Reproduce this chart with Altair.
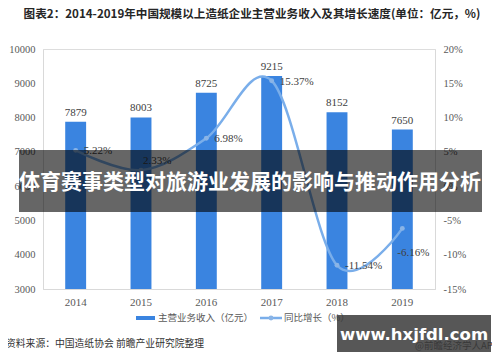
import altair as alt
import pandas as pd

years = ["2014", "2015", "2016", "2017", "2018", "2019"]
revenue = [7879, 8003, 8725, 9215, 8152, 7650]
growth = [5.22, 2.33, 6.98, 15.37, -11.54, -6.16]
growth_labels = ["5.22%", "2.33%", "6.98%", "15.37%", "-11.54%", "-6.16%"]
left_ticks = [3000, 4000, 5000, 6000, 7000, 8000, 9000, 10000]
right_ticks = [-15, -10, -5, 0, 5, 10, 15, 20]

title_text = "图表2：2014-2019年中国规模以上造纸企业主营业务收入及其增长速度(单位：亿元，%)"
banner_text = "体育赛事类型对旅游业发展的影响与推动作用分析"
legend_bar = "主营业务收入（亿元）"
legend_line = "同比增长（%）"
source_text = "资料来源：中国造纸协会 前瞻产业研究院整理"
app_text = "@前瞻经济学人APP"
site_text = "www.hxjfdl.com"

df = pd.DataFrame({"year": years, "revenue": revenue, "growth": growth, "glabel": growth_labels})

SERIF = "'Liberation Serif', 'Times New Roman', 'DejaVu Serif', serif"
CJK = "Noto Sans CJK SC"
BAR = "#3a84e0"
LINE = "#7aaeea"

base = alt.Chart(df)
xenc = alt.X(
    "year:N",
    scale=alt.Scale(paddingInner=0.68, paddingOuter=0.34),
    axis=alt.Axis(title=None, labelAngle=0, ticks=False, domainColor="#d9d9d9",
                  labelFont=SERIF, labelFontSize=11, labelColor="#595959", labelPadding=7),
)
yL = alt.Y(
    "revenue:Q",
    scale=alt.Scale(domain=[3000, 10000], zero=False, nice=False),
    axis=alt.Axis(title=None, values=left_ticks, ticks=False, grid=False, domainColor="#d9d9d9",
                  format="d", labelFont=SERIF, labelFontSize=10.5, labelColor="#595959", labelPadding=8),
)
bars = base.mark_bar(color=BAR).encode(x=xenc, y=yL, y2=alt.datum(3000))
bar_labels = base.mark_text(font=SERIF, fontSize=11, color="#404040", baseline="bottom", dy=-4).encode(
    x=xenc, y=yL, text=alt.Text("revenue:Q", format="d"))
left_layer = alt.layer(bars, bar_labels)

yR = alt.Y(
    "growth:Q",
    scale=alt.Scale(domain=[-15, 20], nice=False),
    axis=alt.Axis(title=None, orient="right", values=right_ticks, ticks=False, grid=False,
                  domainColor="#d9d9d9", labelExpr="datum.value + '%'",
                  labelFont=SERIF, labelFontSize=10.5, labelColor="#595959", labelPadding=8),
)
line = base.mark_line(interpolate="cardinal", color=LINE, strokeWidth=2.5).encode(x=xenc, y=yR)
pts = base.mark_circle(size=24, color="#8ab4e6", opacity=1).encode(x=xenc, y=yR)
lab_main = base.transform_filter("datum.year != '2015' && datum.year != '2019'").mark_text(
    font=SERIF, fontSize=11, color="#404040", align="left", dx=8, dy=1).encode(x=xenc, y=yR, text="glabel:N")
lab_2015 = base.transform_filter("datum.year == '2015'").mark_text(
    font=SERIF, fontSize=11, color="#404040", align="left", dx=2, dy=-9).encode(x=xenc, y=yR, text="glabel:N")
lab_2019 = base.transform_filter("datum.year == '2019'").mark_text(
    font=SERIF, fontSize=11, color="#404040", align="left", dx=-5, dy=25).encode(x=xenc, y=yR, text="glabel:N")
right_layer = alt.layer(line, pts, lab_main, lab_2015, lab_2019)

main = alt.layer(left_layer, right_layer).resolve_scale(y="independent")

one = alt.Data(values=[{}])

def txt(s, x, y, **kw):
    return alt.Chart(one).mark_text(**kw).encode(x=alt.value(x), y=alt.value(y), text=alt.value(s))

def box(x, x2, y, y2, **kw):
    return alt.Chart(one).mark_rect(**kw).encode(x=alt.value(x), x2=alt.value(x2), y=alt.value(y), y2=alt.value(y2))

title = txt(title_text, 209, -34, font=CJK, fontSize=11.6, fontWeight="bold", color="#262626", align="center", baseline="middle")
banner = box(-24, 439, 101, 163, color="black", opacity=0.6)
banner_t = txt(banner_text, 207, 134, font=CJK, fontSize=21, fontWeight="bold", color="white", align="center", baseline="middle")
leg_rect = box(93, 112, 267, 271, color=BAR)
leg_t1 = txt(legend_bar, 115, 269, font=CJK, fontSize=9.5, color="#595959", align="left", baseline="middle")
leg_line = alt.Chart(one).mark_rule(color=LINE, strokeWidth=2.5).encode(
    x=alt.value(217), x2=alt.value(239), y=alt.value(269))
leg_pt = alt.Chart(one).mark_circle(size=24, color="#8ab4e6", opacity=1).encode(x=alt.value(228), y=alt.value(269))
leg_t2 = txt(legend_line, 241, 269, font=CJK, fontSize=9.5, color="#595959", align="left", baseline="middle")
src = txt(source_text, -37, 295, font=CJK, fontSize=9.8, color="#333333", align="left", baseline="middle")
app = txt(app_text, 372, 297, font=CJK, fontSize=9.5, color="#333333", align="left", baseline="middle")
site_box = box(294, 448, 266, 303, color="#3a3a3a", opacity=0.85)
site_t = txt(site_text, 371, 286, font="DejaVu Sans", fontSize=16.5, fontWeight="bold", color="white", align="center", baseline="middle")

chart = alt.layer(
    main, title, banner, banner_t, leg_rect, leg_t1, leg_line, leg_pt, leg_t2, src, app, site_box, site_t
).properties(
    width=392, height=240,
    autosize=alt.AutoSizeParams(type="none"),
    padding={"left": 35, "top": 41, "right": 57, "bottom": 64},
).configure_view(stroke=None).configure(background="white")

chart.save("out.html", embed_options={"renderer": "svg", "actions": False})
